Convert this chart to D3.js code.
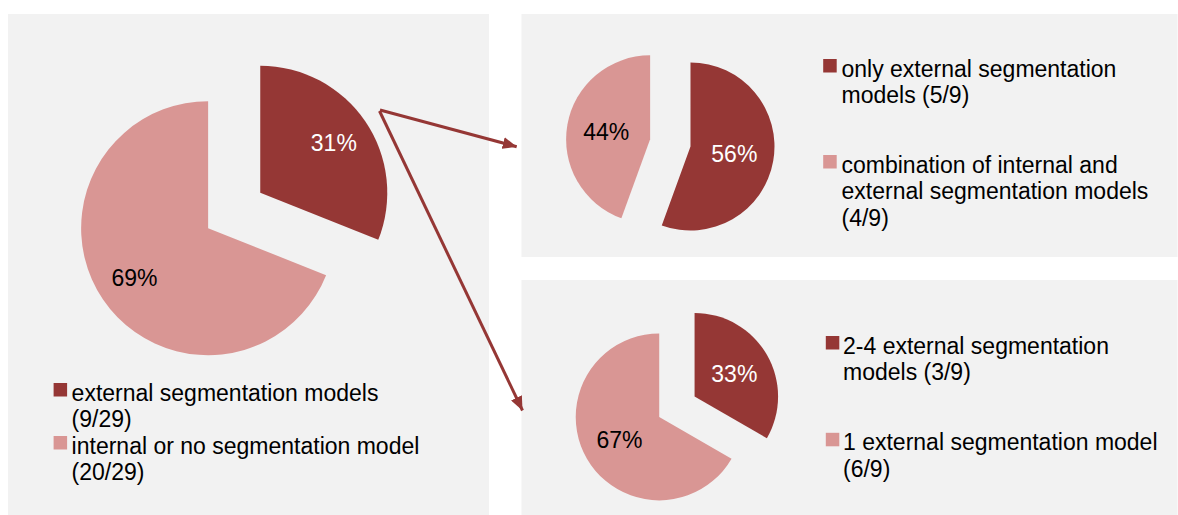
<!DOCTYPE html>
<html>
<head>
<meta charset="utf-8">
<script src="https://cdn.jsdelivr.net/npm/d3@7"></script>
<style>
  html, body { margin: 0; padding: 0; background: #ffffff; }
  svg { display: block; }
  text { font-family: "Liberation Sans", Arial, sans-serif; font-size: 23px; }
</style>
</head>
<body>
<svg id="chart" width="1178" height="515"></svg>
<script>
// Segment counts per pie (first slice starts at 12 o'clock, clockwise)
const overallCategories = ["external segmentation models", "internal or no segmentation model"];
const overallValues = [9, 20];
const overallLegend = [["external segmentation models", "(9/29)"],
                       ["internal or no segmentation model", "(20/29)"]];

const externalCategories = ["only external segmentation models", "combination of internal and external segmentation models"];
const externalValues = [5, 4];
const externalLegend = [["only external segmentation", "models (5/9)"],
                        ["combination of internal and", "external segmentation models", "(4/9)"]];

const countCategories = ["2-4 external segmentation models", "1 external segmentation model"];
const countValues = [3, 6];
const countLegend = [["2-4 external segmentation", "models (3/9)"],
                     ["1 external segmentation model", "(6/9)"]];

const sliceColors = ["#953735", "#d99694"];
const labelColors = ["#ffffff", "#000000"];

const svg = d3.select("#chart");

// Panel backgrounds
const panels = [
  { x: 8, y: 14, w: 481, h: 501 },
  { x: 521.5, y: 14, w: 656, h: 243 },
  { x: 521.5, y: 280, w: 656, h: 235 }
];
svg.selectAll("rect.panel").data(panels).join("rect")
  .attr("class", "panel")
  .attr("x", d => d.x).attr("y", d => d.y)
  .attr("width", d => d.w).attr("height", d => d.h)
  .attr("fill", "#f2f2f2");

const pieLayout = d3.pie().sort(null).value(d => d).startAngle(0).endAngle(2 * Math.PI);

function drawPie(values, cx, cy, r, explode, labelFrac) {
  const g = svg.append("g").attr("transform", `translate(${cx},${cy})`);
  const arcs = pieLayout(values);
  const total = d3.sum(values);
  const arc = d3.arc().innerRadius(0).outerRadius(r);
  const slices = g.selectAll("g.slice").data(arcs).join("g")
    .attr("class", "slice")
    .attr("transform", d => {
      const a = (d.startAngle + d.endAngle) / 2;
      return `translate(${explode * Math.sin(a)},${-explode * Math.cos(a)})`;
    });
  slices.append("path")
    .attr("d", arc)
    .attr("fill", (d, i) => sliceColors[i]);
  slices.append("text")
    .attr("x", d => labelFrac * r * Math.sin((d.startAngle + d.endAngle) / 2))
    .attr("y", d => -labelFrac * r * Math.cos((d.startAngle + d.endAngle) / 2))
    .attr("text-anchor", "middle")
    .attr("dominant-baseline", "central")
    .attr("fill", (d, i) => labelColors[i])
    .text(d => d3.format(".0%")(d.value / total));
}

drawPie(overallValues, 234.2, 210.5, 127, 31.5, 0.7);
drawPie(externalValues, 670.3, 142.9, 84, 20.5, 0.53);
drawPie(countValues, 676.9, 406.7, 83.5, 20.4, 0.55);

// Legends: square marker plus wrapped label lines
function drawLegend(items, squareX, textX, baselines, lineH) {
  items.forEach((lines, i) => {
    const b = baselines[i];
    svg.append("rect")
      .attr("x", squareX).attr("y", b - 4 - 13.5)
      .attr("width", 13.5).attr("height", 13.5)
      .attr("fill", sliceColors[i]);
    const t = svg.append("text").attr("x", textX).attr("y", b).attr("fill", "#000");
    lines.forEach((ln, j) => {
      t.append("tspan").attr("x", textX).attr("dy", j === 0 ? 0 : lineH).text(ln);
    });
  });
}

drawLegend(overallLegend, 53.6, 71.6, [400.5, 453.5], 26.7);
drawLegend(externalLegend, 823.2, 841.5, [76.5, 172.5], 26.5);
drawLegend(countLegend, 825.8, 843, [353.5, 450.3], 26.7);

// Arrows linking the external slice to the two breakdown pies
const defs = svg.append("defs");
defs.append("marker")
  .attr("id", "head")
  .attr("markerUnits", "userSpaceOnUse")
  .attr("viewBox", "0 0 14 12")
  .attr("refX", 14).attr("refY", 6)
  .attr("markerWidth", 14).attr("markerHeight", 12)
  .attr("orient", "auto")
  .append("path")
  .attr("d", "M0,0 L14,6 L0,12 Z")
  .attr("fill", "#953735");

const arrows = [
  { x1: 380, y1: 110, x2: 516.7, y2: 146.7 },
  { x1: 379.5, y1: 111, x2: 522.5, y2: 410.5 }
];
svg.selectAll("line.arrow").data(arrows).join("line")
  .attr("class", "arrow")
  .attr("x1", d => d.x1).attr("y1", d => d.y1)
  .attr("x2", d => d.x2).attr("y2", d => d.y2)
  .attr("stroke", "#953735")
  .attr("stroke-width", 3)
  .attr("marker-end", "url(#head)");
</script>
</body>
</html>
